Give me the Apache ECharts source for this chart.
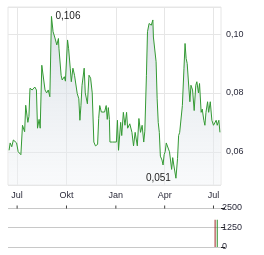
<!DOCTYPE html>
<html><head><meta charset="utf-8">
<script src="https://cdn.jsdelivr.net/npm/echarts@6/dist/echarts.min.js"></script>
<style>html,body{margin:0;padding:0;background:#fff}#c{width:264px;height:255px}</style>
</head><body><div id="c"></div>
<script>
// day offsets from 2023-07-01
const days = [
 -15,-13,-10,-7,-4,-1,2,7,10,14,
 16,20,22,24,28,33,36,38,41,43,
 46,49,52,55,58,61,64,67,70,74,
 77,78,82,84,88,90,94,96,99,101,
 104,107,112,115,117,119,121,125,127,131,
 134,137,140,143,146,150,152,154,157,160,
 163,166,168,170,172,173,178,185,187,189,
 193,195,198,201,204,206,210,214,217,220,
 224,227,230,233,236,238,241,243,246,250,
 253,254,257,259,261,263,265,267,270,272,
 274,276,278,281,284,288,290,292,296,299,
 301,303,306,308,311,313,315,317,320,322,
 324,327,330,333,335,338,340,343,345,348,
 350,352,355,357,360,363,366,368,371,373,
 376,378];
const prices = [
 0.0605,0.063,0.0617,0.064,0.064,0.063,0.060,0.059,0.069,0.0668,
 0.0758,0.070,0.072,0.0816,0.081,0.082,0.081,0.068,0.071,0.068,
 0.0894,0.090,0.081,0.080,0.081,0.0787,0.106,0.1008,0.099,0.0963,
 0.0985,0.095,0.086,0.0844,0.0855,0.084,0.098,0.095,0.0884,0.0838,
 0.0884,0.086,0.0798,0.078,0.0707,0.0758,0.0826,0.0884,0.080,0.0763,
 0.086,0.085,0.080,0.0633,0.062,0.0625,0.0713,0.0757,0.0735,0.074,
 0.0735,0.0757,0.071,0.075,0.071,0.0633,0.0633,0.0633,0.0707,0.0605,
 0.070,0.0655,0.0734,0.069,0.0734,0.068,0.0695,0.0666,0.062,0.0666,
 0.062,0.0713,0.0666,0.069,0.0633,0.067,0.086,0.1008,0.1036,0.103,
 0.1048,0.099,0.0985,0.0906,0.078,0.070,0.0666,0.0585,0.0572,0.0555,
 0.059,0.060,0.063,0.063,0.060,0.054,0.058,0.0555,0.051,0.0577,
 0.0655,0.0666,0.0666,0.0757,0.0884,0.0968,0.0917,0.090,0.082,0.077,
 0.0826,0.081,0.074,0.0826,0.0838,0.080,0.0832,0.0734,0.0745,0.0707,
 0.069,0.0734,0.077,0.0734,0.077,0.0707,0.069,0.0685,0.0707,0.069,
 0.0707,0.0666];
const volDays = [369, 373];
const volValues = [1750, 1750];
const volDir = ['down', 'up'];
const tickDates = ['2023-07-01','2023-10-01','2024-01-01','2024-04-01','2024-07-01'];
const tickLabels = ['Jul','Okt','Jan','Apr','Jul'];
const xStartDay = -17, xEndDay = 380;
const yMin = 0.0487, yMax = 0.1092;
const volTicks = [0, 1250, 2500];

const DAY = 864e5;
const base = Date.UTC(2023, 6, 1);
const parseDate = s => { const p = s.split('-'); return Date.UTC(+p[0], +p[1]-1, +p[2]); };
const tickDays = tickDates.map(s => Math.round((parseDate(s) - base) / DAY));
const labelFor = v => { let best = 0, bd = Infinity; tickDays.forEach((t,i)=>{const d=Math.abs(t-v); if(d<bd){bd=d;best=i;}}); return tickLabels[best]; };
const FONT = 'Arial, "Liberation Sans", sans-serif';
const TXT = '#2a2a3a';

const chart = echarts.init(document.getElementById('c'), null, {renderer:'canvas'});
chart.setOption({
  animation: false,
  textStyle: {fontFamily: FONT},
  grid: [
    {left: 8, top: 7, width: 213, height: 178, show: true, borderColor: '#e6e6e6', borderWidth: 1, backgroundColor: 'transparent'},
    {left: 8, top: 208, width: 213, height: 39, show: false}
  ],
  xAxis: [
    {type: 'value', gridIndex: 0, min: xStartDay, max: xEndDay,
     axisLine: {show: false, onZero: false}, axisTick: {show: false, customValues: tickDays},
     axisLabel: {customValues: tickDays, formatter: v => labelFor(v), fontSize: 9, color: TXT, margin: 6, fontFamily: FONT, hideOverlap: false},
     splitLine: {show: true, lineStyle: {color: '#e6e6e6', width: 1}}},
    {type: 'value', gridIndex: 1, position: 'top', min: xStartDay, max: xEndDay,
     axisLine: {show: false, onZero: false}, axisTick: {show: false},
     axisLabel: {show: false}, splitLine: {show: false}}
  ],
  yAxis: [
    {type: 'value', gridIndex: 0, position: 'right', min: yMin, max: yMax, splitNumber: 3,
     axisLine: {show: false, onZero: false}, axisTick: {show: false},
     axisLabel: {showMinLabel: false, showMaxLabel: false, fontSize: 9, color: TXT, margin: 5, fontFamily: FONT,
       formatter: v => v.toFixed(2).replace('.', ',')},
     splitLine: {show: true, lineStyle: {color: '#e6e6e6', width: 1}}},
    {type: 'value', gridIndex: 1, position: 'right', min: volTicks[0], max: volTicks[2], interval: volTicks[1],
     axisLine: {show: false, onZero: false}, axisTick: {show: true, length: 4, lineStyle: {color: '#222'}},
     axisLabel: {fontSize: 9, color: TXT, margin: 1, fontFamily: FONT, formatter: v => String(v)},
     splitLine: {show: true, lineStyle: {color: '#c8c8c8', width: 1}}}
  ],
  series: [
    {type: 'line', xAxisIndex: 0, yAxisIndex: 0, symbol: 'none', silent: true,
     data: days.map((d, i) => [d, prices[i]]),
     lineStyle: {color: '#339933', width: 1},
     areaStyle: {color: new echarts.graphic.LinearGradient(0, 0, 0, 1, [
        {offset: 0, color: 'rgba(196,206,216,0.85)'},
        {offset: 1, color: 'rgba(240,243,246,0.6)'}])},
     markPoint: {symbol: 'circle', symbolSize: 0, silent: true,
       data: [
         {type: 'max', label: {position: 'right', distance: 4}},
         {type: 'min', label: {position: 'left', distance: 5}}
       ],
       label: {show: true, fontSize: 10, color: '#222', fontFamily: FONT,
         formatter: p => String(p.value).replace('.', ',')}}},
    {type: 'bar', xAxisIndex: 1, yAxisIndex: 1, barWidth: 1, silent: true,
     data: volDays.map((d, i) => ({value: [d, volValues[i]], itemStyle: {color: volDir[i] === 'down' ? '#a02828' : '#2a8f2a'}}))},
    // month tick marks on the volume panel's top line
    {type: 'scatter', xAxisIndex: 1, yAxisIndex: 1, silent: true, clip: false,
     symbol: 'rect', symbolSize: [1, 3], symbolOffset: [0, -1],
     itemStyle: {color: '#111'},
     data: tickDays.map(d => [d, volTicks[2]])}
  ]
});
</script>
</body></html>
